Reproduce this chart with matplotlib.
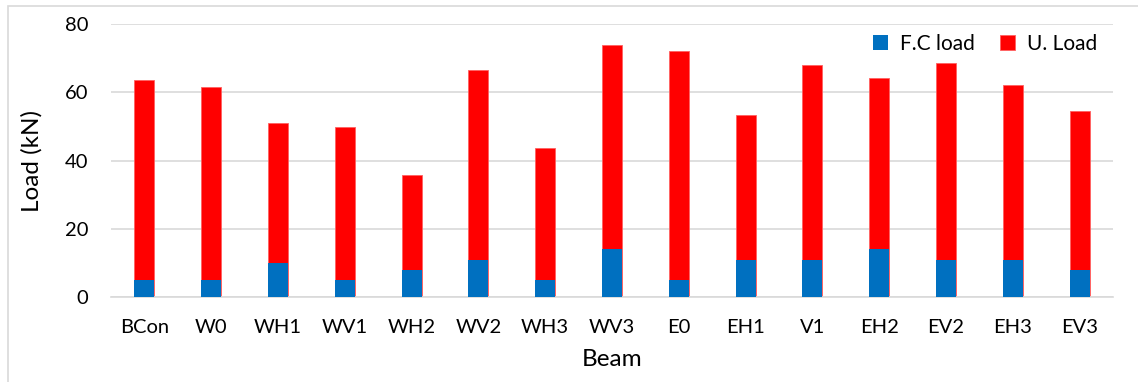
import numpy as np
import matplotlib.pyplot as plt
from matplotlib.patches import Rectangle

# --- Beam test results (kN) ---
beams = ["BCon", "W0", "WH1", "WV1", "WH2", "WV2", "WH3", "WV3",
         "E0", "EH1", "V1", "EH2", "EV2", "EH3", "EV3"]
fc_load = [5, 5, 10, 5, 8, 11, 5, 14, 5, 11, 11, 14, 11, 11, 8]
u_load = [63.7, 61.5, 51.0, 49.8, 35.7, 66.6, 43.7, 73.8,
          72.3, 53.5, 68.2, 64.2, 68.6, 62.3, 54.5]

plt.rcParams["font.family"] = ["Lato", "DejaVu Sans"]

fig = plt.figure(figsize=(11.38, 3.82), dpi=100)
ax = fig.add_axes([111 / 1138, 1 - 297 / 382, 1002 / 1138, 272.7 / 382])

x = np.arange(len(beams))
w = 0.30
# ultimate load drawn full height, first-crack load in front of it
ax.bar(x, u_load, w, color="#FF0000", edgecolor="#FF6060", linewidth=0.6,
       label="U. Load", zorder=2)
ax.bar(x, fc_load, w, color="#0070C0", label="F.C load", zorder=3)

ax.set_xlim(-0.5, len(beams) - 0.5)
ax.set_ylim(0, 80)
ax.set_yticks([0, 20, 40, 60, 80])
ax.set_xticks(x)
ax.set_xticklabels(beams)
ax.tick_params(axis="both", length=0, labelsize=14.5, colors="#000000")
ax.tick_params(axis="x", pad=16)
ax.tick_params(axis="y", pad=16.5)
ax.grid(axis="y", color="#d9d9d9", linewidth=1.2, zorder=0)
for s in ["top", "right", "left"]:
    ax.spines[s].set_visible(False)
ax.spines["bottom"].set_color("#d9d9d9")
ax.spines["bottom"].set_linewidth(1.2)

ax.set_ylabel("Load (kN)", fontsize=17.5, labelpad=16)
ax.set_xlabel("Beam", fontsize=17.5, labelpad=9)

handles, labels = ax.get_legend_handles_labels()
ax.legend(handles[::-1], labels[::-1], loc="upper right", ncol=2, frameon=False,
          fontsize=15, handlelength=0.7, handleheight=0.7, columnspacing=1.2,
          handletextpad=0.6, bbox_to_anchor=(1.003, 1.035))

# light frame around the chart
fig.patches.append(Rectangle((8 / 1138, -0.05), 1.2, 1 - 5.5 / 382 + 0.05,
                             transform=fig.transFigure, fill=False,
                             edgecolor="#d9d9d9", linewidth=1.2))

fig.savefig("out.png", dpi=100)
